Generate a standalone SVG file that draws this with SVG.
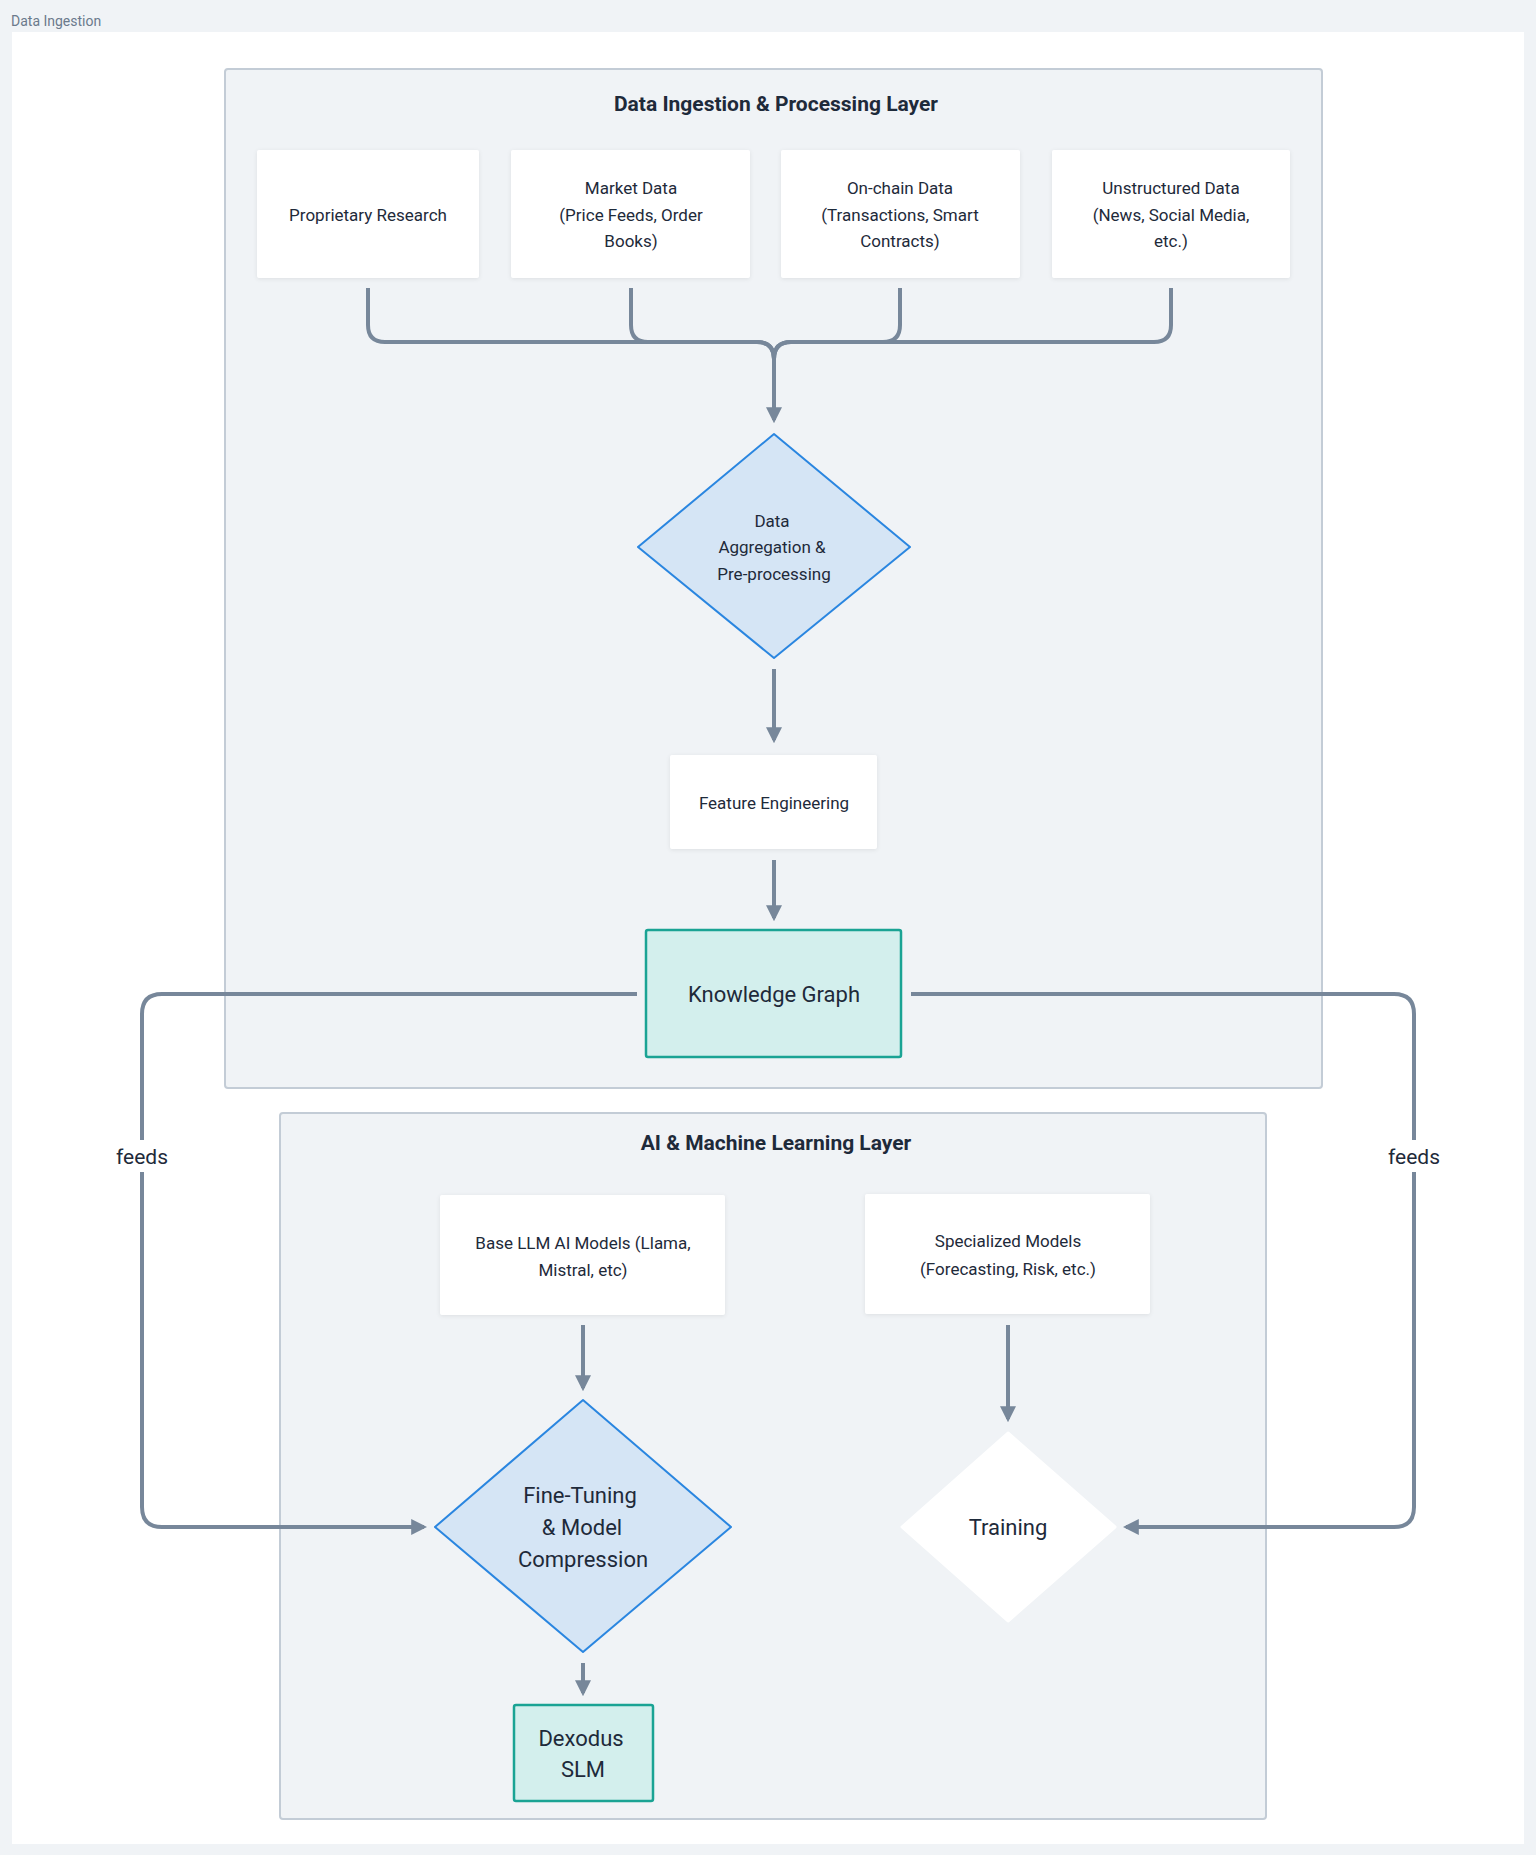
<svg xmlns="http://www.w3.org/2000/svg" width="1536" height="1855" viewBox="0 0 1536 1855">
<defs>
<style>
text{font-family:Roboto,"Noto Sans",sans-serif;fill:#1e2a3a;text-anchor:middle}
.box{fill:#fff;filter:drop-shadow(0 1px 2px rgba(0,0,0,0.08))}
.layer{fill:#f0f3f6;stroke:#c3ccd6;stroke-width:2}
.t{font-size:17px}
.big{font-size:22px}
.ttl{font-size:21px;font-weight:bold}
.c{fill:none;stroke:#77879a;stroke-width:4;stroke-linejoin:round}
.dia{fill:#d5e5f5;stroke:#2a86e0;stroke-width:2}
.kg{fill:#d3efed;stroke:#1aa394;stroke-width:2.5}
</style>
<marker id="a" viewBox="0 0 10 10" refX="8" refY="5" markerWidth="4" markerHeight="4" orient="auto"><path d="M0,0L10,5L0,10z" fill="#77879a"/></marker>
</defs>
<rect width="1536" height="1855" fill="#f0f3f6"/>
<rect x="12" y="32" width="1512" height="1812" fill="#fff"/>
<text x="11" y="26" style="font-size:14px;fill:#6b7a8c;text-anchor:start">Data Ingestion</text>
<g id="layer1"><rect class="layer" x="225" y="69" width="1097" height="1019" rx="3"/><text class="ttl" x="776" y="111">Data Ingestion &amp; Processing Layer</text></g>
<g id="layer2"><rect class="layer" x="280" y="1113" width="986" height="706" rx="3"/><text class="ttl" x="776" y="1150">AI &amp; Machine Learning Layer</text></g>
<g id="connectors">
<path class="c" d="M368,288V325Q368,342 385,342H757Q774,342 774,359V420" marker-end="url(#a)"/>
<path class="c" d="M631,288V325Q631,342 648,342H757Q774,342 774,359"/>
<path class="c" d="M900,288V325Q900,342 883,342H791Q774,342 774,359"/>
<path class="c" d="M1171,288V325Q1171,342 1154,342H791Q774,342 774,359"/>
<path class="c" d="M774,669V740" marker-end="url(#a)"/>
<path class="c" d="M774,860V918" marker-end="url(#a)"/>
<path class="c" d="M637,994H162Q142,994 142,1014V1507Q142,1527 162,1527H424" marker-end="url(#a)"/>
<path class="c" d="M911,994H1394Q1414,994 1414,1014V1507Q1414,1527 1394,1527H1126" marker-end="url(#a)"/>
<path class="c" d="M583,1325V1388" marker-end="url(#a)"/>
<path class="c" d="M1008,1325V1419" marker-end="url(#a)"/>
<path class="c" d="M583,1663V1693" marker-end="url(#a)"/>
<rect x="100" y="1140" width="84" height="32" fill="#fff"/>
<text class="big" x="142" y="1164" style="font-size:21px">feeds</text>
<rect x="1372" y="1140" width="84" height="32" fill="#fff"/>
<text class="big" x="1414" y="1164" style="font-size:21px">feeds</text>
</g>
<g id="n1"><rect class="box" x="257" y="150" width="222" height="128" rx="2"/><text class="t" x="368" y="221">Proprietary Research</text></g>
<g id="n2"><rect class="box" x="511" y="150" width="239" height="128" rx="2"/><text class="t" x="631" y="194">Market Data</text><text class="t" x="631" y="221">(Price Feeds, Order</text><text class="t" x="631" y="247">Books)</text></g>
<g id="n3"><rect class="box" x="781" y="150" width="239" height="128" rx="2"/><text class="t" x="900" y="194">On-chain Data</text><text class="t" x="900" y="221">(Transactions, Smart</text><text class="t" x="900" y="247">Contracts)</text></g>
<g id="n4"><rect class="box" x="1052" y="150" width="238" height="128" rx="2"/><text class="t" x="1171" y="194">Unstructured Data</text><text class="t" x="1171" y="221">(News, Social Media,</text><text class="t" x="1171" y="247">etc.)</text></g>
<g id="agg"><path class="dia" d="M774,434L910,547L774,658L638,547Z" stroke-linejoin="round"/><text class="t" x="772" y="527">Data</text><text class="t" x="772" y="553">Aggregation &amp;</text><text class="t" x="774" y="580">Pre-processing</text></g>
<g id="fe"><rect class="box" x="670" y="755" width="207" height="94" rx="2"/><text class="t" x="774" y="809">Feature Engineering</text></g>
<g id="kg"><rect class="kg" x="646" y="930" width="255" height="127" rx="2"/><text class="big" x="774" y="1002">Knowledge Graph</text></g>
<g id="llm"><rect class="box" x="440" y="1195" width="285" height="120" rx="2"/><text class="t" x="583" y="1249">Base LLM AI Models (Llama,</text><text class="t" x="583" y="1276">Mistral, etc)</text></g>
<g id="spec"><rect class="box" x="865" y="1194" width="285" height="120" rx="2"/><text class="t" x="1008" y="1247">Specialized Models</text><text class="t" x="1008" y="1275">(Forecasting, Risk, etc.)</text></g>
<g id="ft"><path class="dia" d="M583,1400L731,1527L583,1652L435,1527Z" stroke-linejoin="round"/><text class="big" x="580" y="1503">Fine-Tuning</text><text class="big" x="582" y="1535">&amp; Model</text><text class="big" x="583" y="1567">Compression</text></g>
<g id="train"><path d="M1008,1433L1115,1527L1008,1621L902,1527Z" fill="#fff" stroke="#fff" stroke-width="3" stroke-linejoin="round"/><text class="big" x="1008" y="1535">Training</text></g>
<g id="slm"><rect class="kg" x="514" y="1705" width="139" height="96" rx="2"/><text class="big" x="581" y="1746">Dexodus</text><text class="big" x="583" y="1777">SLM</text></g>
</svg>
